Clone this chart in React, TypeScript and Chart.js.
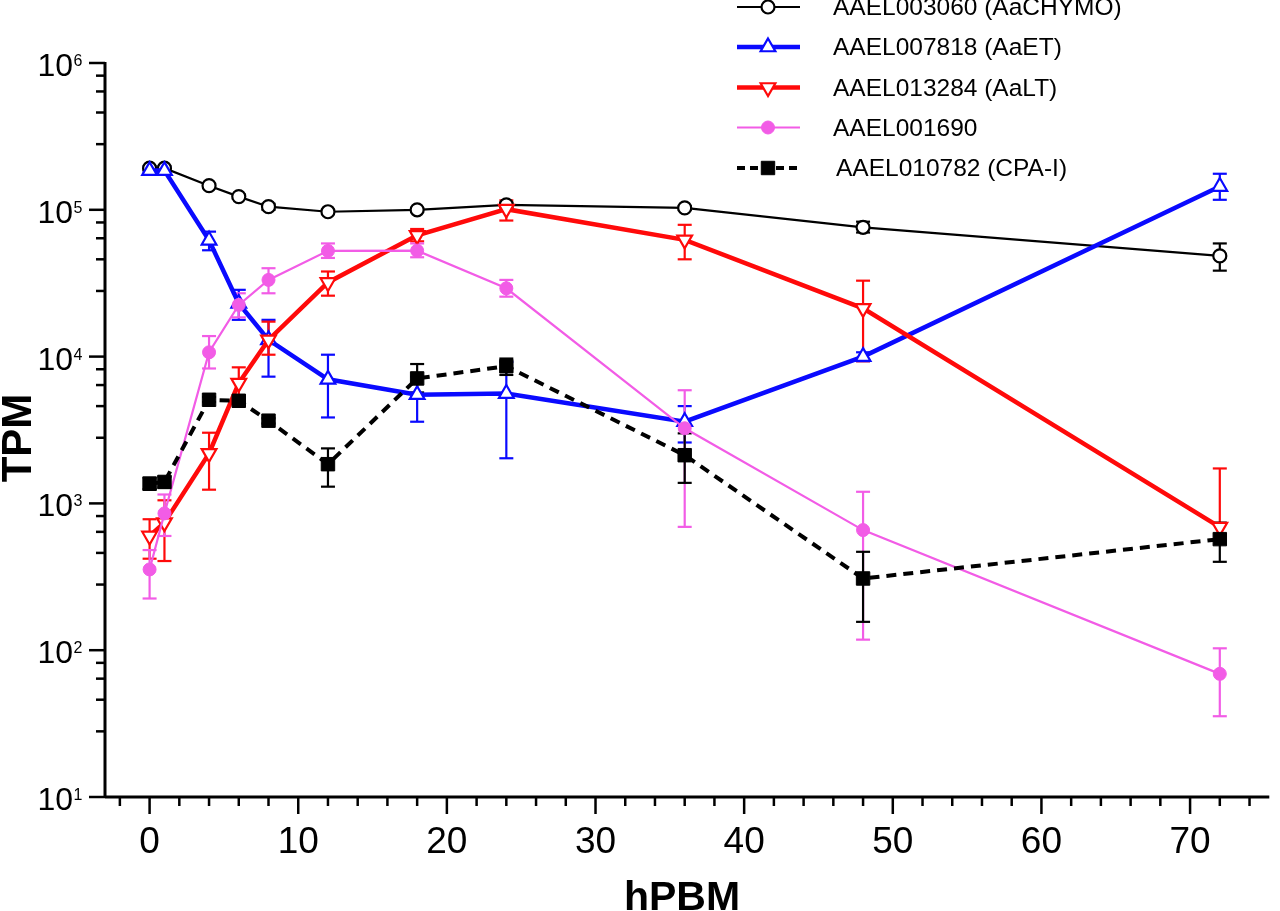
import { useEffect, useRef } from "react";
import { Chart, registerables } from "chart.js";
import { drawPoint } from "chart.js/helpers";

Chart.register(...registerables);

// hours post blood meal
const hours = [0, 1, 4, 6, 8, 12, 18, 24, 36, 48, 72];

// AAEL003060 (AaCHYMO)
const chymo = [1.92e5, 1.92e5, 1.46e5, 1.23e5, 1.05e5, 9.7e4, 1.0e5, 1.08e5, 1.03e5, 7.6e4, 4.85e4];
const chymoLo = [1.86e5, 1.86e5, 1.42e5, 1.19e5, 1.0e5, 9.4e4, 9.7e4, 1.04e5, 1.0e5, 7.0e4, 3.85e4];
const chymoHi = [1.98e5, 1.98e5, 1.5e5, 1.27e5, 1.1e5, 1.0e5, 1.03e5, 1.12e5, 1.06e5, 8.3e4, 5.9e4];

// AAEL007818 (AaET)
const et = [1.85e5, 1.85e5, 6.2e4, 2.3e4, 1.3e4, 7.0e3, 5.5e3, 5.6e3, 3.6e3, 1.0e4, 1.44e5];
const etLo = [1.8e5, 1.8e5, 5.3e4, 1.78e4, 7.3e3, 3.85e3, 3.6e3, 2.03e3, 2.6e3, 9.3e3, 1.17e5];
const etHi = [1.95e5, 1.95e5, 7.1e4, 2.85e4, 1.78e4, 1.03e4, 7.3e3, 9.2e3, 4.6e3, 1.07e4, 1.76e5];

// AAEL013284 (AaLT)
const lt = [600, 740, 2.19e3, 6.6e3, 1.3e4, 3.2e4, 6.7e4, 1.01e5, 6.24e4, 2.13e4, 690];
const ltLo = [420, 405, 1.24e3, 5.3e3, 1.03e4, 2.6e4, 6.1e4, 8.45e4, 4.6e4, 9.3e3, 690];
const ltHi = [780, 1.05e3, 3.03e3, 8.45e3, 1.73e4, 3.8e4, 7.4e4, 1.16e5, 7.9e4, 3.29e4, 1.73e3];

// AAEL001690
const a1690 = [355, 855, 1.07e4, 2.25e4, 3.33e4, 5.25e4, 5.27e4, 2.92e4, 3.25e3, 658, 69];
const a1690Lo = [225, 600, 8.3e3, 1.85e4, 2.7e4, 4.7e4, 4.75e4, 2.56e4, 692, 118, 35.5];
const a1690Hi = [481, 1.15e3, 1.38e4, 2.7e4, 4.0e4, 5.9e4, 5.9e4, 3.33e4, 5.9e3, 1.2e3, 103];

// AAEL010782 (CPA-I)
const cpa = [1.36e3, 1.4e3, 5.08e3, 5.0e3, 3.66e3, 1.85e3, 7.1e3, 8.6e3, 2.13e3, 308, 571];
const cpaLo = [1.25e3, 1.28e3, 4.9e3, 4.8e3, 3.5e3, 1.3e3, 5.7e3, 7.5e3, 1.38e3, 156, 400];
const cpaHi = [1.5e3, 1.52e3, 5.3e3, 5.2e3, 3.8e3, 2.37e3, 8.9e3, 9.7e3, 3.0e3, 468, 740];

const seriesLabels = [
  "AAEL003060 (AaCHYMO)",
  "AAEL007818 (AaET)",
  "AAEL013284 (AaLT)",
  "AAEL001690",
  "AAEL010782 (CPA-I)",
];

// axis ticks
const xMajorTicks = [0, 10, 20, 30, 40, 50, 60, 70];
const xMinorTicks = [-2, 2, 4, 6, 8, 12, 14, 16, 18, 22, 24, 26, 28, 32, 34, 36, 38, 42, 44, 46, 48, 52, 54, 56, 58, 62, 64, 66, 68, 72, 74];
const yDecades = [1, 2, 3, 4, 5, 6];
const yMinorSteps = [2.8, 4.6, 6.4, 8.2];

const FONT = '"Liberation Sans", Arial, Helvetica, sans-serif';
const PINK = "#f25ce6";
const BLUE = "#0a0aff";
const RED = "#ff0a0a";

const errLo = [chymoLo, etLo, ltLo, a1690Lo, cpaLo];
const errHi = [chymoHi, etHi, ltHi, a1690Hi, cpaHi];

const pts = (vals: number[]) => hours.map((h, i) => ({ x: h, y: vals[i] }));

const datasets: any[] = [
  {
    label: seriesLabels[0],
    data: pts(chymo),
    borderColor: "#000",
    borderWidth: 2.2,
    pointStyle: "circle",
    pointRadius: 6.5,
    pointBorderWidth: 2.2,
    pointBackgroundColor: "#fff",
    pointBorderColor: "#000",
    order: 5,
  },
  {
    label: seriesLabels[1],
    data: pts(et),
    borderColor: BLUE,
    borderWidth: 4.5,
    pointStyle: "triangle",
    pointRadius: 8.5,
    pointBorderWidth: 2.2,
    pointBackgroundColor: "#fff",
    pointBorderColor: BLUE,
    order: 4,
  },
  {
    label: seriesLabels[2],
    data: pts(lt),
    borderColor: RED,
    borderWidth: 4.5,
    pointStyle: "triangle",
    pointRotation: 180,
    pointRadius: 8.5,
    pointBorderWidth: 2.2,
    pointBackgroundColor: "#fff",
    pointBorderColor: RED,
    order: 3,
  },
  {
    label: seriesLabels[3],
    data: pts(a1690),
    borderColor: PINK,
    borderWidth: 2.2,
    pointStyle: "circle",
    pointRadius: 6.5,
    pointBorderWidth: 1,
    pointBackgroundColor: PINK,
    pointBorderColor: PINK,
    order: 2,
  },
  {
    label: seriesLabels[4],
    data: pts(cpa),
    borderColor: "#000",
    borderWidth: 4,
    borderDash: [10, 7],
    pointStyle: "rect",
    pointRadius: 9.5,
    pointBorderWidth: 1,
    pointBackgroundColor: "#000",
    pointBorderColor: "#000",
    order: 1,
  },
];

const prismPlugin = {
  id: "prismAxes",
  beforeDatasetsDraw(chart: any) {
    const ctx = chart.ctx;
    const xs = chart.scales.x;
    const ys = chart.scales.y;
    ctx.save();
    datasets.forEach((ds, d) => {
      ctx.strokeStyle = ds.pointBorderColor;
      ctx.lineWidth = 2.2;
      hours.forEach((h, i) => {
        const x = xs.getPixelForValue(h);
        const yLo = ys.getPixelForValue(errLo[d][i]);
        const yHi = ys.getPixelForValue(errHi[d][i]);
        ctx.beginPath();
        ctx.moveTo(x, yLo);
        ctx.lineTo(x, yHi);
        ctx.stroke();
        const caps = [yHi];
        if (Math.abs(yLo - ys.getPixelForValue(ds.data[i].y)) > 1) caps.push(yLo);
        caps.forEach((cy) => {
          ctx.beginPath();
          ctx.moveTo(x - 7, cy);
          ctx.lineTo(x + 7, cy);
          ctx.stroke();
        });
      });
    });
    ctx.restore();
  },
  afterDraw(chart: any) {
    const ctx = chart.ctx;
    const xs = chart.scales.x;
    const ys = chart.scales.y;
    const { left, right, bottom } = chart.chartArea;
    const top = ys.getPixelForValue(1e6);
    ctx.save();
    ctx.strokeStyle = "#000";
    ctx.fillStyle = "#000";

    // axis lines
    ctx.lineWidth = 3;
    ctx.beginPath();
    ctx.moveTo(left, top - 1);
    ctx.lineTo(left, bottom);
    ctx.moveTo(left, bottom);
    ctx.lineTo(right, bottom);
    ctx.stroke();

    // y ticks
    ctx.lineWidth = 2.5;
    yDecades.forEach((p) => {
      const y = ys.getPixelForValue(Math.pow(10, p));
      ctx.beginPath();
      ctx.moveTo(left - 16, y);
      ctx.lineTo(left, y);
      ctx.stroke();
      ctx.textAlign = "right";
      ctx.textBaseline = "alphabetic";
      ctx.font = `32px ${FONT}`;
      ctx.fillText("10", 73, y + 13);
      ctx.font = `16px ${FONT}`;
      ctx.textAlign = "left";
      ctx.fillText(String(p), 73.5, y + 3);
      if (p < 6) {
        yMinorSteps.forEach((m) => {
          const ym = ys.getPixelForValue(m * Math.pow(10, p));
          ctx.beginPath();
          ctx.moveTo(left - 9, ym);
          ctx.lineTo(left, ym);
          ctx.stroke();
        });
      }
    });

    // x ticks
    ctx.font = `37px ${FONT}`;
    ctx.textAlign = "center";
    ctx.textBaseline = "alphabetic";
    xMajorTicks.forEach((v) => {
      const x = xs.getPixelForValue(v);
      ctx.beginPath();
      ctx.moveTo(x, bottom);
      ctx.lineTo(x, bottom + 17);
      ctx.stroke();
      ctx.fillText(String(v), x, bottom + 56);
    });
    xMinorTicks.forEach((v) => {
      const x = xs.getPixelForValue(v);
      ctx.beginPath();
      ctx.moveTo(x, bottom);
      ctx.lineTo(x, bottom + 9);
      ctx.stroke();
    });

    // axis titles
    ctx.font = `bold 41px ${FONT}`;
    ctx.textAlign = "center";
    ctx.fillText("hPBM", 682, 910);
    ctx.save();
    ctx.translate(31, 438);
    ctx.rotate(-Math.PI / 2);
    ctx.font = `bold 42px ${FONT}`;
    ctx.fillText("TPM", 0, 0);
    ctx.restore();

    // legend
    const rowY = [7, 47, 87.5, 127.5, 168];
    datasets.forEach((ds, i) => {
      const y = rowY[i];
      ctx.save();
      ctx.strokeStyle = ds.borderColor;
      ctx.lineWidth = ds.borderWidth;
      ctx.setLineDash(ds.borderDash ? [8, 5] : []);
      ctx.beginPath();
      ctx.moveTo(737, y);
      ctx.lineTo(800, y);
      ctx.stroke();
      ctx.setLineDash([]);
      ctx.fillStyle = ds.pointBackgroundColor;
      ctx.strokeStyle = ds.pointBorderColor;
      ctx.lineWidth = ds.pointBorderWidth;
      drawPoint(
        ctx,
        {
          pointStyle: ds.pointStyle,
          rotation: ds.pointRotation || 0,
          radius: ds.pointRadius,
          borderWidth: ds.pointBorderWidth,
        } as any,
        768,
        y
      );
      ctx.restore();
      ctx.fillStyle = "#000";
      ctx.font = `24.5px ${FONT}`;
      ctx.textAlign = "left";
      ctx.textBaseline = "middle";
      ctx.fillText(ds.label, i === 4 ? 836 : 833, y + 1.5);
    });

    ctx.restore();
  },
};

export default function App() {
  const canvasRef = useRef<HTMLCanvasElement | null>(null);
  const chartRef = useRef<Chart | null>(null);

  useEffect(() => {
    document.body.style.margin = "0";
    const canvas = canvasRef.current;
    if (!canvas) return;
    const ctx = canvas.getContext("2d");
    if (!ctx) return;
    if (chartRef.current) chartRef.current.destroy();

    chartRef.current = new Chart(ctx, {
      type: "line",
      data: { datasets },
      options: {
        responsive: false,
        animation: false,
        layout: { padding: { left: 105, right: 0, top: 63, bottom: 114 } },
        plugins: {
          legend: { display: false },
          tooltip: { enabled: false },
        },
        elements: { line: { tension: 0 } },
        scales: {
          x: { type: "linear", min: -3, max: 75.33, display: false },
          y: { type: "logarithmic", min: 10, max: 1e6, display: false },
        },
      },
      plugins: [prismPlugin],
    } as any);

    return () => {
      if (chartRef.current) {
        chartRef.current.destroy();
        chartRef.current = null;
      }
    };
  }, []);

  return (
    <div style={{ width: 1280, height: 911, background: "#fff" }}>
      <canvas ref={canvasRef} width={1280} height={911} style={{ display: "block" }} />
    </div>
  );
}
